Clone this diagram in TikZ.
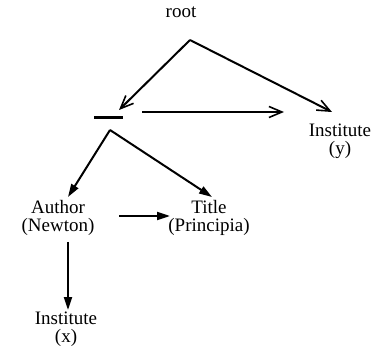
\documentclass[tikz,border=0pt]{standalone}
\usepackage{fontspec}
\setmainfont{Liberation Serif}
\usetikzlibrary{arrows.meta}

\begin{document}
\begin{tikzpicture}[x=1pt,y=-1pt,line width=2pt,
    open/.style={-{Straight Barb[length=13pt,width=11pt,line width=1.6pt]}},
    solid/.style={-{Triangle[length=13pt,width=8pt]}}]

    % `label' is used for all texts.
    % `bar' is the unlabelled node.
    \tikzstyle{label} = [inner sep=0pt,align=center,font=\fontsize{19}{18}\selectfont]
    \tikzstyle{bar} = [draw=none,fill=black,minimum width=29pt,minimum height=3pt,inner sep=0pt]
    %
    \useasboundingbox (0,0) rectangle (374,352);

    % Nodes.
    \node[label] (root) at (181,12) {root};
    \coordinate (top) at (190,40);
    \node[bar] (blank) at (108.5,118) {};
    \coordinate (blanktip) at (119,110);
    \coordinate (blankout) at (142,112);
    \coordinate (split) at (110,130);
    \node[label] (insty) at (340,141) {Institute\\(y)};
    \coordinate (instytip) at (332,112);
    \coordinate (instyin) at (284,112);
    \node[label] (author) at (58,218) {Author\\(Newton)};
    \coordinate (authortip) at (68,197);
    \coordinate (authorout) at (119,216);
    \coordinate (authordown) at (68,242);
    \node[label] (title) at (209,218) {Title\\(Principia)};
    \coordinate (titletip) at (212,197);
    \coordinate (titlein) at (170,216);
    \node[label] (instx) at (66,329) {Institute\\(x)};
    \coordinate (instxtip) at (68,310);

    % Connectors.
    \draw[open] (top) -- (blanktip);
    \draw[open] (top) -- (instytip);
    \draw[open] (blankout) -- (instyin);
    \draw[solid] (split) -- (authortip);
    \draw[solid] (split) -- (titletip);
    \draw[solid] (authorout) -- (titlein);
    \draw[solid] (authordown) -- (instxtip);
    %
\end{tikzpicture}
\end{document}
